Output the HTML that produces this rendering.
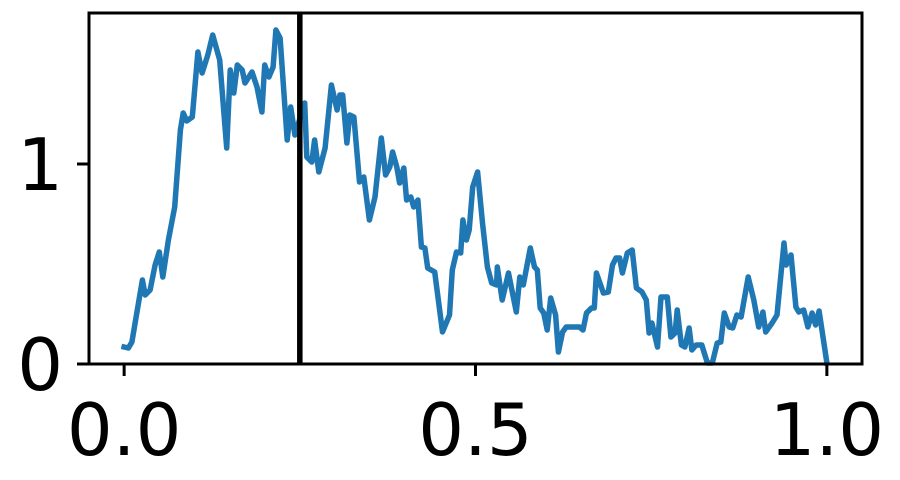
<!DOCTYPE html>
<html><head><meta charset="utf-8"><style>
html,body{margin:0;padding:0;background:#fff;}
svg{display:block;font-family:"DejaVu Sans","Liberation Sans",sans-serif;}
</style></head><body>
<svg id="chart" width="900" height="480" viewBox="0 0 900 480" xmlns="http://www.w3.org/2000/svg">
<g id="plot"></g>
</svg>
<script>
const xVals=[0,.006,.011,.018,.026,.030,.037,.044,.050,.055,.063,.072,.080,.084,.089,.097,.105,.111,.119,.126,.136,.146,.151,.156,.161,.168,.172,.182,.189,.196,.200,.206,.212,.216,.222,.232,.237,.243,.257,.260,.267,.271,.277,.286,.295,.303,.307,.311,.317,.321,.327,.335,.341,.349,.357,.366,.372,.378,.382,.388,.392,.398,.402,.408,.412,.418,.423,.428,.432,.442,.453,.463,.467,.473,.479,.482,.487,.491,.496,.503,.510,.517,.523,.530,.531,.538,.547,.558,.563,.568,.578,.584,.588,.592,.597,.602,.607,.614,.618,.624,.629,.648,.653,.658,.665,.669,.672,.682,.689,.695,.700,.705,.709,.716,.723,.729,.737,.743,.747,.751,.759,.764,.773,.778,.784,.787,.793,.798,.804,.808,.814,.822,.830,.837,.844,.849,.854,.861,.866,.872,.878,.888,.896,.903,.909,.913,.922,.929,.939,.942,.949,.956,.960,.967,.973,.979,.984,.989,1.0];
const yVals=[.085,.08,.11,.255,.42,.345,.37,.495,.56,.435,.62,.785,1.17,1.255,1.215,1.235,1.56,1.455,1.545,1.645,1.52,1.08,1.47,1.355,1.495,1.47,1.405,1.46,1.385,1.26,1.495,1.435,1.485,1.67,1.63,1.12,1.285,1.145,1.305,1.035,1.01,1.12,.96,1.08,1.395,1.27,1.345,1.345,1.105,1.245,1.235,.91,.935,.72,.835,1.13,.945,.985,1.06,.985,.905,.98,.82,.835,.785,.82,.585,.58,.48,.46,.16,.245,.47,.56,.555,.72,.62,.67,.885,.96,.705,.485,.405,.395,.485,.32,.455,.26,.435,.395,.58,.485,.47,.28,.255,.17,.33,.245,.06,.16,.185,.185,.17,.255,.28,.28,.455,.355,.36,.495,.53,.53,.455,.555,.57,.38,.36,.32,.155,.205,.085,.335,.335,.135,.155,.27,.095,.085,.18,.07,.095,.095,.005,.005,.105,.11,.255,.185,.18,.245,.235,.435,.32,.185,.26,.16,.205,.245,.605,.495,.545,.285,.26,.27,.185,.255,.195,.265,.005];
const xTicks=[0,0.5,1];
const xTickLabels=["0.0","0.5","1.0"];
const yTicks=[0,1];
const yTickLabels=["0","1"];
const vlineX=[0.25];

const L=89,R=862,T=13,B=364;
const xMin=-0.05,xMax=1.05,yMin=0,yMax=(364-13)/200;
const sx=v=>L+(v-xMin)/(xMax-xMin)*(R-L);
const sy=v=>B-(v-yMin)/(yMax-yMin)*(B-T);
const NS="http://www.w3.org/2000/svg";
const g=document.getElementById('plot');
function mk(t,a){const e=document.createElementNS(NS,t);for(const k in a)e.setAttribute(k,a[k]);g.appendChild(e);return e;}

let d=xVals.map((x,i)=>(i?'L':'M')+sx(x).toFixed(1)+' '+sy(yVals[i]).toFixed(1)).join(' ');
const line=mk('path',{d:d,fill:'none',stroke:'#1f77b4','stroke-width':5.5,'stroke-linejoin':'round','stroke-linecap':'square'});



vlineX.forEach(v=>{
  const e=mk('line',{x1:sx(v),x2:sx(v),y1:T,y2:B,stroke:'#000','stroke-width':5.5});
  
  
});

const frame=mk('rect',{x:L,y:T,width:R-L,height:B-T,fill:'none',stroke:'#000','stroke-width':3});



xTicks.forEach((v,i)=>{
  const t=mk('line',{x1:sx(v),x2:sx(v),y1:B,y2:B+12,stroke:'#000','stroke-width':3});
  
  
  const l=mk('text',{x:sx(v),y:455,'text-anchor':'middle','font-size':72,fill:'#000'});
  l.textContent=xTickLabels[i];
  
  
});
yTicks.forEach((v,i)=>{
  const t=mk('line',{x1:L-12,x2:L,y1:sy(v),y2:sy(v),stroke:'#000','stroke-width':3});
  
  
  const l=mk('text',{x:L-26,y:sy(v)+26,'text-anchor':'end','font-size':72,fill:'#000'});
  l.textContent=yTickLabels[i];
  
  
});
</script>
</body></html>
